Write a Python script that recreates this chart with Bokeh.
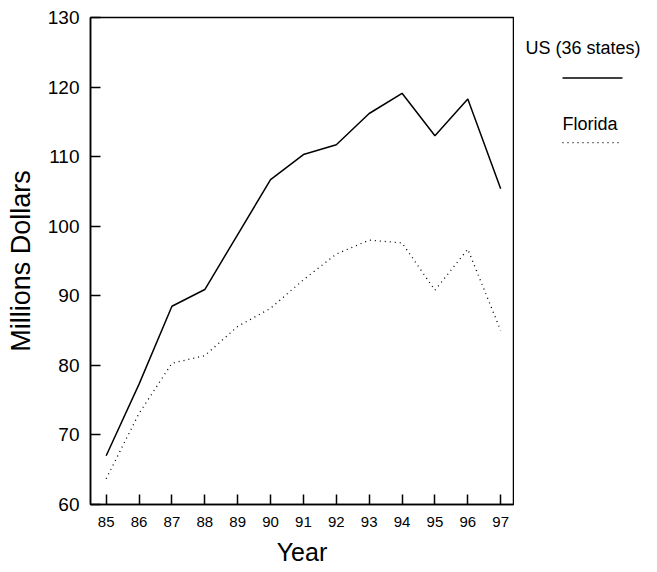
from bokeh.plotting import figure
from bokeh.models import ColumnDataSource, FixedTicker, Range1d
from bokeh.layouts import row
from bokeh.core.properties import value
from bokeh.embed import file_html
from bokeh.resources import INLINE

# ---- data ----
years = [85, 86, 87, 88, 89, 90, 91, 92, 93, 94, 95, 96, 97]
us_36_states = [67.0, 77.3, 88.5, 90.9, 98.8, 106.7, 110.3, 111.7, 116.2, 119.1, 113.0, 118.3, 105.4]
florida = [63.7, 73.1, 80.3, 81.4, 85.6, 88.2, 92.3, 96.0, 98.0, 97.6, 90.8, 96.7, 85.0]
y_ticks = [60, 70, 80, 90, 100, 110, 120, 130]
x_label = "Year"
y_label = "Millions Dollars"
series_names = ["US (36 states)", "Florida"]

FONT = "Liberation Sans"

src = ColumnDataSource(dict(year=years, us=us_36_states, fl=florida))

p = figure(width=514, height=572, x_range=(84.523, 97.39), y_range=(60, 130),
           output_backend="svg", toolbar_location=None,
           min_border_left=90, min_border_top=17, min_border_right=1, min_border_bottom=68)

p.background_fill_color = "white"
p.border_fill_color = "white"
p.outline_line_color = "black"
p.outline_line_width = 1.5
p.xgrid.visible = False
p.ygrid.visible = False

p.xaxis.ticker = FixedTicker(ticks=years)
p.yaxis.ticker = FixedTicker(ticks=y_ticks)
for ax in (p.xaxis, p.yaxis):
    ax.axis_line_color = "black"
    ax.axis_line_width = 1.5
    ax.major_tick_in = 10
    ax.major_tick_out = 0
    ax.major_tick_line_width = 1.5
    ax.minor_tick_line_color = None
    ax.major_label_text_font = FONT
    ax.major_label_text_color = "black"
    ax.axis_label_text_font = FONT
    ax.axis_label_text_font_style = "normal"
    ax.axis_label_text_color = "black"
p.xaxis.major_label_text_font_size = "15px"
p.yaxis.major_label_text_font_size = "19px"
p.xaxis.major_label_standoff = 12
p.yaxis.major_label_standoff = 11
p.xaxis.axis_label = x_label
p.yaxis.axis_label = y_label
p.xaxis.axis_label_text_font_size = "25px"
p.yaxis.axis_label_text_font_size = "27px"
p.xaxis.axis_label_standoff = 8
p.yaxis.axis_label_standoff = 9

p.line("year", "us", source=src, line_color="black", line_width=1.5)
p.line("year", "fl", source=src, line_color="black", line_width=1.3, line_dash="1 4")

# legend panel (its own figure, in pixel coordinates of the page)
lg = figure(width=143, height=572, x_range=Range1d(514, 657), y_range=Range1d(572, 0),
            output_backend="svg", toolbar_location=None,
            min_border_left=0, min_border_right=0, min_border_top=0, min_border_bottom=0)
lg.axis.visible = False
lg.grid.visible = False
lg.outline_line_color = None
lg.background_fill_color = "white"
lg.border_fill_color = "white"

lg.text(x=[525, 562], y=[36, 125], text=series_names, text_font=value(FONT),
        text_font_size="18px", text_baseline="alphabetic", text_align="left", text_color="black")
lg.line(x=[562, 622], y=[71, 71], line_color="black", line_width=1.5)
lg.line(x=[562, 622], y=[147, 147], line_color="black", line_width=1.3, line_dash="1 4")

layout = row(p, lg, spacing=0)
open("out.html", "w").write(file_html(layout, INLINE))
